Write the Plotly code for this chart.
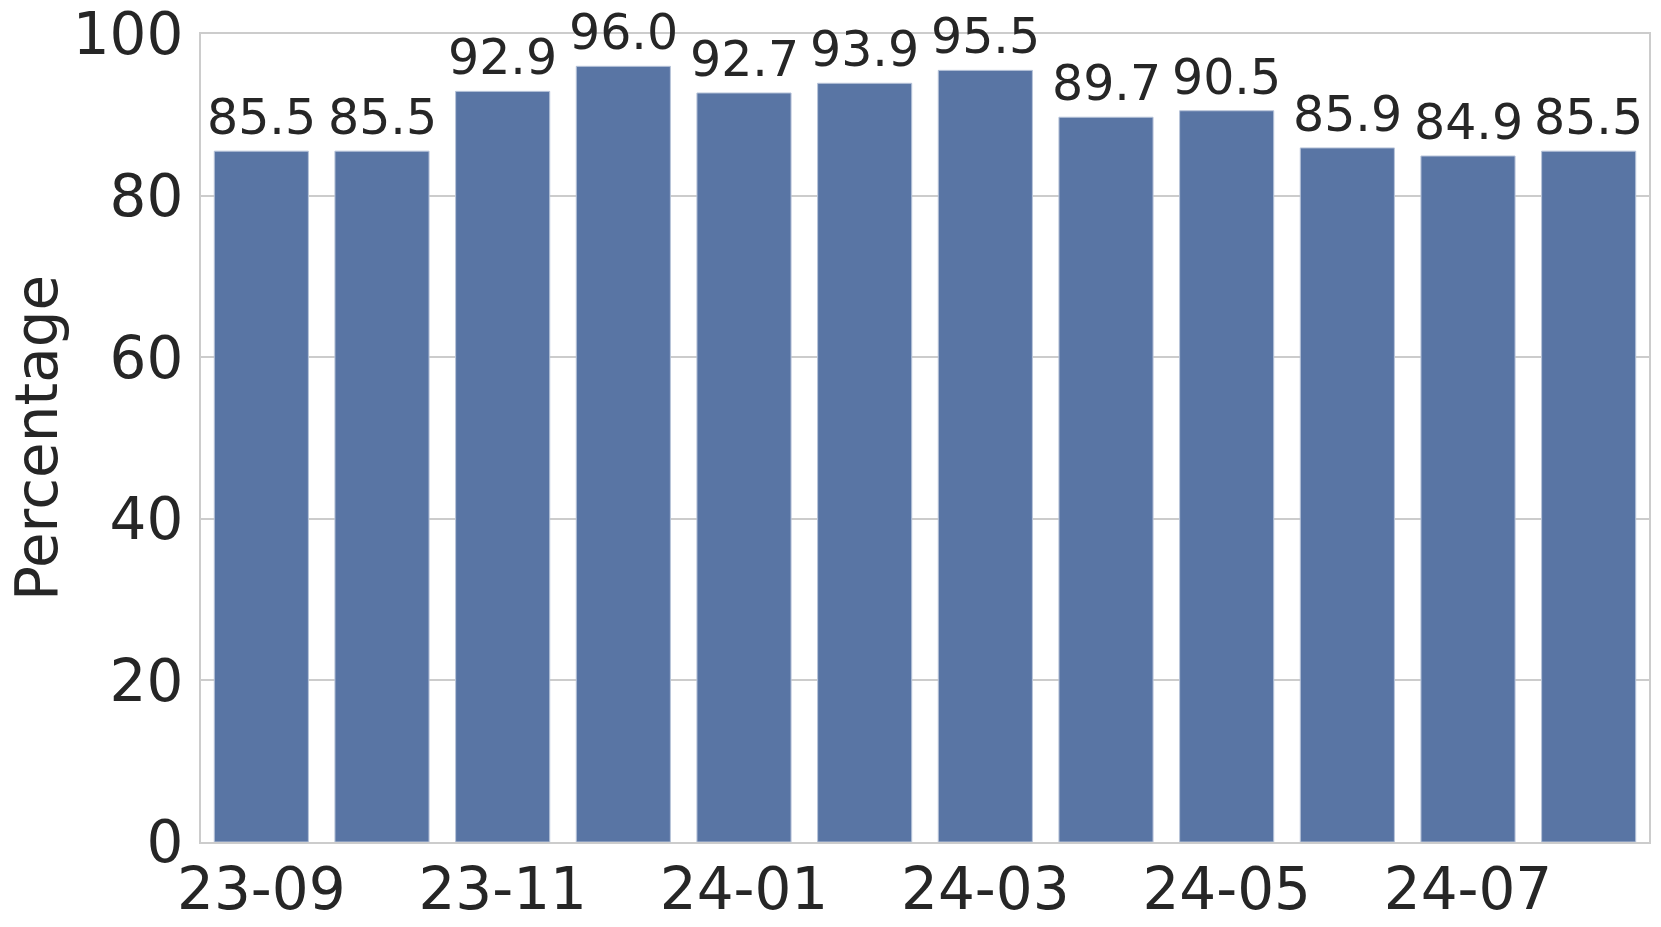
import plotly.graph_objects as go

months = [
    "23-09", "23-10", "23-11", "23-12", "24-01", "24-02",
    "24-03", "24-04", "24-05", "24-06", "24-07", "24-08",
]
percentages = [85.5, 85.5, 92.9, 96.0, 92.7, 93.9, 95.5, 89.7, 90.5, 85.9, 84.9, 85.5]
tick_labels = ["23-09", "23-11", "24-01", "24-03", "24-05", "24-07"]
y_ticks = [0, 20, 40, 60, 80, 100]

TEXT_COLOR = "#262626"
GRID_COLOR = "#cccccc"
FONT = "DejaVu Sans"


def build_figure() -> go.Figure:
    fig = go.Figure()
    fig.add_trace(
        go.Bar(
            x=months,
            y=percentages,
            marker=dict(color="#5975a4", line=dict(color="#b8c4d9", width=1)),
            width=0.78,
            hoverinfo="x+y",
        )
    )

    for month, value in zip(months, percentages):
        fig.add_annotation(
            x=month,
            y=value,
            text=f"{value:.1f}",
            showarrow=False,
            yanchor="bottom",
            yshift=3,
            font=dict(family=FONT, size=49, color=TEXT_COLOR),
        )

    # y title as annotation so it doesn't push the margins around
    fig.add_annotation(
        xref="paper",
        yref="paper",
        x=0,
        y=0.5,
        xshift=-164,
        text="Percentage",
        textangle=-90,
        showarrow=False,
        xanchor="center",
        yanchor="middle",
        font=dict(family=FONT, size=58, color=TEXT_COLOR),
    )

    fig.update_layout(
        width=1661,
        height=927,
        margin=dict(l=201, r=12, t=34, b=85),
        plot_bgcolor="white",
        paper_bgcolor="white",
        showlegend=False,
        font=dict(family=FONT, color=TEXT_COLOR),
        xaxis=dict(
            type="category",
            range=[-0.5, len(months) - 0.5],
            tickvals=tick_labels,
            ticktext=tick_labels,
            tickfont=dict(size=58, color=TEXT_COLOR),
            automargin=False,
            ticklabeloverflow="allow",
            ticklabelstandoff=-5,
            showgrid=False,
            showline=True,
            linecolor=GRID_COLOR,
            linewidth=2,
            mirror=True,
            ticks="",
        ),
        yaxis=dict(
            range=[0, 100],
            tickvals=y_ticks,
            tickfont=dict(size=58, color=TEXT_COLOR),
            automargin=False,
            ticklabeloverflow="allow",
            ticklabelstandoff=4,
            showgrid=True,
            gridcolor=GRID_COLOR,
            gridwidth=1.5,
            zeroline=False,
            showline=True,
            linecolor=GRID_COLOR,
            linewidth=2,
            mirror=True,
            ticks="",
        ),
    )
    return fig


def main() -> None:
    fig = build_figure()
    # drop the default 8px body margin so the figure fills the window
    fig.write_html(
        "out.html",
        config={"displayModeBar": False},
        post_script="document.body.style.margin = '0';",
    )


if __name__ == "__main__":
    main()
